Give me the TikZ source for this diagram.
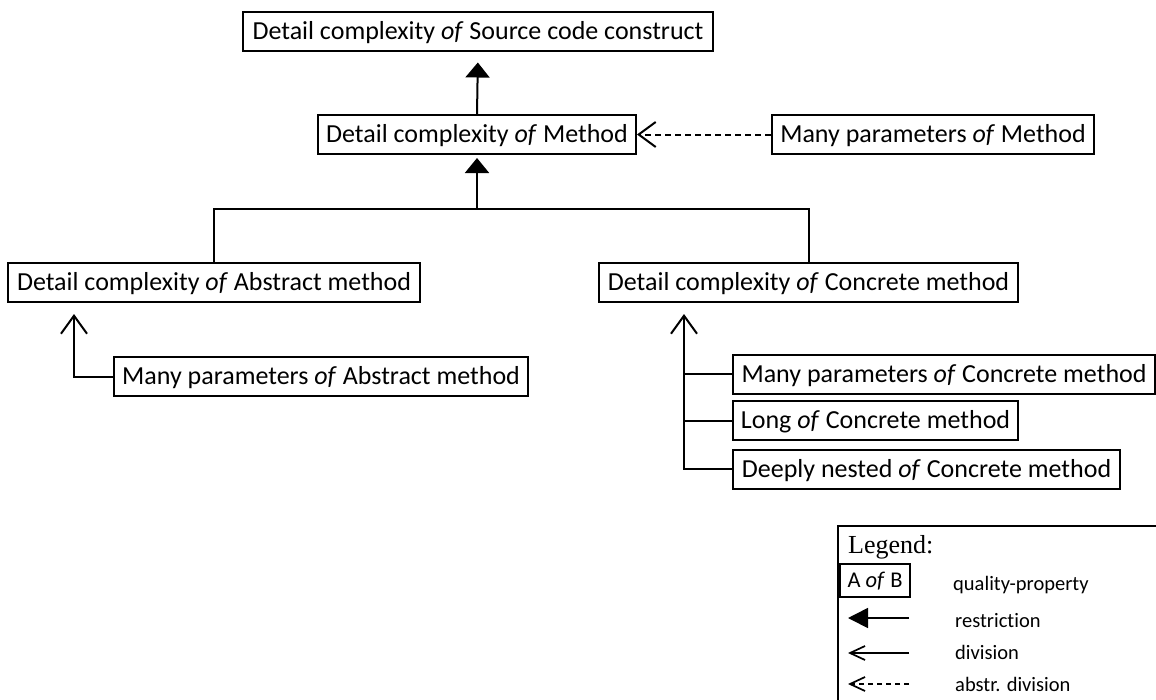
\documentclass[tikz,border=0pt]{standalone}
\usepackage{fontspec}
\setmainfont[Ligatures=NoCommon]{Carlito}
\newfontfamily\legfont{Liberation Serif}
\usetikzlibrary{arrows.meta}
\begin{document}
\begin{tikzpicture}[x=1pt,y=-1pt,
  qp/.style={draw, line width=2pt, inner xsep=0pt, inner ysep=0pt, minimum height=39pt,
    text height=16.5pt, text depth=0pt, font=\fontsize{26}{31}\selectfont, anchor=center},
  conn/.style={line width=2pt},
  restr/.style={conn, -{Triangle[length=15pt,width=24pt]}},
  divi/.style={conn, -{Straight Barb[length=18pt,width=26pt,line width=2pt]}},
  adiv/.style={conn, dash pattern=on 6pt off 4pt, -{Straight Barb[length=17pt,width=25pt,line width=2pt]}},
  legtext/.style={anchor=base west, inner sep=0pt, font=\fontsize{20.5}{24}\selectfont},
  legline/.style={line width=1.7pt},
]
\useasboundingbox (0,0) rectangle (1156,699);

% quality-property nodes
\node[qp, minimum width=470pt] (top) at (478,31) {Detail complexity \textit{of} Source code construct};
\node[qp, minimum width=318pt] (method) at (477,134.5) {Detail complexity \textit{of} Method};
\node[qp, minimum width=322pt] (mpm) at (933,134.5) {Many parameters \textit{of} Method};
\node[qp, minimum width=412pt] (abstract) at (214,282.5) {Detail complexity \textit{of} Abstract method};
\node[qp, minimum width=419pt] (concrete) at (808.5,282.5) {Detail complexity \textit{of} Concrete method};
\node[qp, minimum width=414pt] (mpa) at (321,376.5) {Many parameters \textit{of} Abstract method};
\node[qp, minimum width=422pt] (mpc) at (944,374) {Many parameters \textit{of} Concrete method};
\node[qp, minimum width=285pt] (long) at (875.5,420.5) {Long \textit{of} Concrete method};
\node[qp, minimum width=387pt] (dn) at (926.5,469) {Deeply nested \textit{of} Concrete method};

% connectors
\coordinate (bar) at (477,209);
\coordinate (aTip) at (74,314);
\coordinate (cTip) at (684,314);

\draw[restr, shorten >=11pt] (method.north) -- (top.south);
\draw[conn] (abstract.north) |- (bar) -| (concrete.north);
\draw[restr, shorten >=3pt] (bar) -- (method.south);
\draw[adiv] (mpm.west) -- (method.east);

\draw[divi] (mpa.west) -| (aTip);
\draw[divi] (dn.west) -| (cTip);
\draw[conn] (mpc.west) -- (mpc.west -| cTip);
\draw[conn] (long.west) -- (long.west -| cTip);

% legend
\draw[line width=1.4pt] (1160,526) -- (838,526) -- (838,703);
\node[anchor=base west, inner sep=0pt, font=\legfont\fontsize{26}{30}\selectfont] (legt) at (848,553) {Legend:};
\node[draw, line width=1.4pt, minimum width=70pt, minimum height=33pt, inner sep=0pt,
  text height=14pt, text depth=0pt, font=\fontsize{22.5}{26}\selectfont] (lqp) at (875,580.5) {A \textit{of} B};
\node[legtext] (lqpt) at (953,590) {quality-property};

\coordinate (r1) at (909,618);
\coordinate (r2) at (848,618);
\draw[legline, -{Triangle[length=20pt,width=20pt]}] (r1) -- (r2);
\node[legtext] (lrt) at (955,627) {restriction};

\coordinate (d1) at (909,653);
\coordinate (d2) at (848,653);
\draw[legline, -{Straight Barb[length=15pt,width=14pt,line width=1.7pt]}] (d1) -- (d2);
\node[legtext] (ldt) at (955,659.5) {division};

\coordinate (a1) at (909,684);
\coordinate (a2) at (848,684);
\draw[legline, dash pattern=on 5pt off 4pt, -{Straight Barb[length=15pt,width=14pt,line width=1.7pt]}] (a1) -- (a2);
\node[legtext] (lat) at (955,691) {abstr. division};
\end{tikzpicture}
\end{document}
